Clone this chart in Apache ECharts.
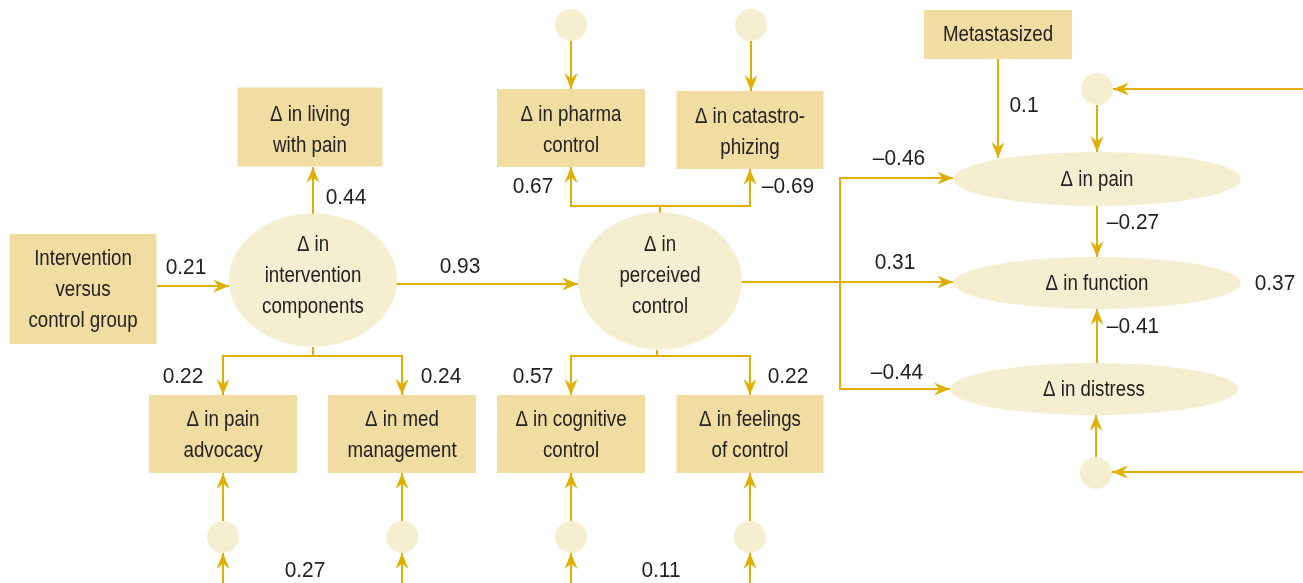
<!DOCTYPE html>
<html>
<head>
<meta charset="utf-8">
<script src="https://cdn.jsdelivr.net/npm/echarts@6/dist/echarts.min.js"></script>
<style>
  html, body { margin: 0; padding: 0; background: #ffffff; }
  #chart { width: 1303px; height: 583px; }
</style>
</head>
<body>
<div id="chart"></div>
<script>
// ---------------- DATA ----------------
// Observed (box) variables
const boxLabels = [
  'Intervention\nversus\ncontrol group',
  'Δ in living\nwith pain',
  'Δ in pharma\ncontrol',
  'Δ in catastro-\nphizing',
  'Metastasized',
  'Δ in pain\nadvocacy',
  'Δ in med\nmanagement',
  'Δ in cognitive\ncontrol',
  'Δ in feelings\nof control'
];
// Latent / outcome (ellipse) variables
const latentLabels = [
  'Δ in\nintervention\ncomponents',
  'Δ in\nperceived\ncontrol',
  'Δ in pain',
  'Δ in function',
  'Δ in distress'
];
// Path coefficients (in the order of coefficientLayout below)
const pathCoefficients = [
  '0.21', '0.44', '0.93', '0.22', '0.24', '0.57', '0.22', '0.67', '–0.69',
  '0.1', '–0.46', '0.31', '–0.44', '–0.27', '–0.41'
];
// Other reported values (R², error correlations)
const otherValues = ['0.37', '0.27', '0.11'];

// ---------------- LAYOUT (diagram geometry, pixel units of the hidden axes) ----------------
const boxLayout = [
  [83, 289, 147, 110], [310, 127, 145, 79], [571, 128, 148, 78], [750, 130, 147, 78],
  [998, 34.5, 148, 49], [223, 434, 148, 78], [402, 434, 148, 78], [571, 434, 148, 78], [750, 434, 147, 78]
];
const boxTextLayout = [
  [83, 290], [310, 130], [571, 130], [750, 132], [998, 35], [223, 435], [402, 435], [571, 435], [750, 435]
];
const latentLayout = [
  [313, 280, 168, 133], [660, 281, 164, 137], [1097, 179, 288, 54], [1097, 283, 288, 52], [1094, 389, 288, 52]
];
const latentTextLayout = [[313, 276], [660, 276], [1097, 180], [1097, 284], [1094, 390]];
const errorLayout = [
  [571, 25], [751, 25], [1097, 89], [1096, 473],
  [223, 537], [402, 537], [571, 537], [750, 537]
];
const coefficientLayout = [
  [186, 268], [346, 198], [460, 267], [183, 377], [441, 377], [533, 377], [788, 377], [533, 187], [788, 187],
  [1024, 106], [899, 159], [895, 263], [897, 373], [1133, 223], [1133, 327]
];
const otherValueLayout = [[1275, 284], [305, 571], [661, 571]];
const edgeRoutes = [
  [[157, 286], [229, 286]],
  [[313, 214], [313, 167]],
  [[396, 284], [578, 284]],
  [[313, 347], [313, 356], [223, 356], [223, 395]],
  [[313, 356], [402, 356], [402, 395]],
  [[657, 350], [657, 356], [571, 356], [571, 395]],
  [[657, 356], [750, 356], [750, 395]],
  [[660, 213], [660, 206], [571, 206], [571, 167]],
  [[660, 206], [750, 206], [750, 169]],
  [[571, 41], [571, 89]],
  [[751, 41], [751, 91]],
  [[998, 59], [998, 158]],
  [[742, 282], [953, 282]],
  [[840, 282], [840, 178], [953, 178]],
  [[840, 282], [840, 389], [950, 389]],
  [[1303, 89], [1113, 89]],
  [[1097, 105], [1097, 152]],
  [[1097, 205], [1097, 257]],
  [[1097, 363], [1097, 309]],
  [[1303, 472], [1112, 472]],
  [[1096, 457], [1096, 415]],
  [[223, 521], [223, 473]], [[223, 583], [223, 553]],
  [[402, 521], [402, 473]], [[402, 583], [402, 553]],
  [[571, 521], [571, 473]], [[571, 583], [571, 553]],
  [[750, 521], [750, 473]], [[750, 583], [750, 553]]
];

// ---------------- STYLE ----------------
const BOX = '#EDD38A', ELL = '#F4EAC4', LINE = '#E0B000', TXT = '#222222';
const FONT = '"Liberation Sans", Arial, sans-serif';
const NAME_SCALE = 0.85, NUM_SCALE = 0.95;

const chart = echarts.init(document.getElementById('chart'), null, { renderer: 'canvas' });

const ellipsePath = 'path://M0,50A50,50,0,1,1,100,50A50,50,0,1,1,0,50Z';

function arrowHead(p, prev) {
  const dx = p[0] - prev[0], dy = p[1] - prev[1];
  const len = Math.sqrt(dx * dx + dy * dy) || 1;
  const ux = dx / len, uy = dy / len, nx = -uy, ny = ux;
  const L = 16, W = 6.5, N = 10.5;
  return [
    [p[0], p[1]],
    [p[0] - ux * L + nx * W, p[1] - uy * L + ny * W],
    [p[0] - ux * N, p[1] - uy * N],
    [p[0] - ux * L - nx * W, p[1] - uy * L - ny * W]
  ];
}

// text items: [x, y, text, horizontal scale]
const textItems = []
  .concat(boxLabels.map((t, i) => [boxTextLayout[i][0], boxTextLayout[i][1], t, NAME_SCALE]))
  .concat(latentLabels.map((t, i) => [latentTextLayout[i][0], latentTextLayout[i][1], t, NAME_SCALE]))
  .concat(pathCoefficients.map((t, i) => [coefficientLayout[i][0], coefficientLayout[i][1], t, NUM_SCALE]))
  .concat(otherValues.map((t, i) => [otherValueLayout[i][0], otherValueLayout[i][1], t, NUM_SCALE]));

chart.setOption({
  animation: false,
  backgroundColor: '#ffffff',
  grid: { left: 0, right: 0, top: 0, bottom: 0 },
  xAxis: { type: 'value', min: 0, max: 1303, show: false },
  yAxis: { type: 'value', min: 0, max: 583, inverse: true, show: false },
  series: [
    {
      type: 'custom', name: 'paths', silent: true, clip: false, z: 1,
      data: edgeRoutes.map(r => r[0]),
      renderItem: function (params, api) {
        const route = edgeRoutes[params.dataIndex];
        const pts = route.map(p => api.coord(p));
        const n = pts.length;
        return {
          type: 'group',
          children: [
            { type: 'polyline', shape: { points: pts }, style: { stroke: LINE, lineWidth: 2, fill: null } },
            { type: 'polygon', shape: { points: arrowHead(pts[n - 1], pts[n - 2]) }, style: { fill: LINE } }
          ]
        };
      }
    },
    {
      type: 'scatter', name: 'boxes', silent: true, z: 2,
      symbol: 'rect',
      itemStyle: { color: BOX },
      data: boxLabels.map((t, i) => ({
        name: t, value: [boxLayout[i][0], boxLayout[i][1]],
        symbolSize: [boxLayout[i][2], boxLayout[i][3]]
      }))
    },
    {
      type: 'scatter', name: 'latents', silent: true, z: 2,
      symbol: ellipsePath,
      itemStyle: { color: ELL },
      data: latentLabels.map((t, i) => ({
        name: t, value: [latentLayout[i][0], latentLayout[i][1]],
        symbolSize: [latentLayout[i][2], latentLayout[i][3]]
      }))
    },
    {
      type: 'scatter', name: 'errors', silent: true, z: 2,
      symbol: 'circle', symbolSize: 32,
      itemStyle: { color: ELL },
      data: errorLayout.map(p => ({ value: p }))
    },
    {
      type: 'custom', name: 'texts', silent: true, clip: false, z: 5,
      data: textItems.map(d => [d[0], d[1]]),
      renderItem: function (params, api) {
        const d = textItems[params.dataIndex];
        const p = api.coord([d[0], d[1]]);
        return {
          type: 'text', x: p[0], y: p[1], scaleX: d[3], scaleY: 1,
          style: {
            text: d[2], fill: TXT, font: '22px ' + FONT, lineHeight: 31,
            align: 'center', verticalAlign: 'middle',
            textAlign: 'center', textVerticalAlign: 'middle'
          }
        };
      }
    }
  ]
});
</script>
</body>
</html>
